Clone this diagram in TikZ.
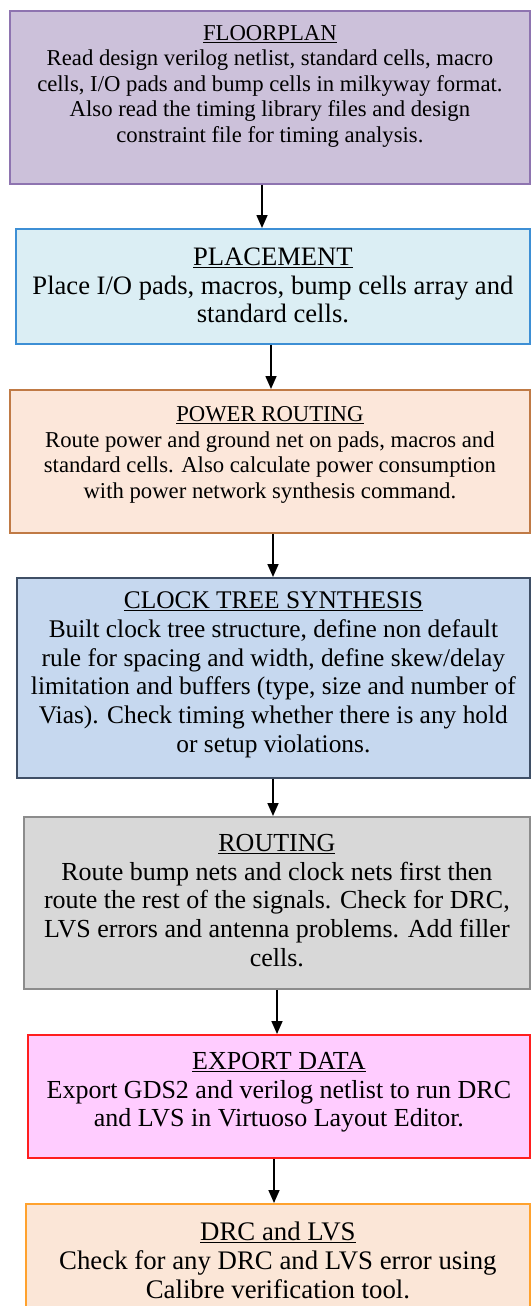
\documentclass[tikz,border=0pt]{standalone}
\usepackage{fontspec}
\setmainfont{Liberation Serif}
\usepackage{tikz}
\usetikzlibrary{arrows.meta, positioning}

\definecolor{fpFill}{HTML}{CCC1DA}\definecolor{fpLine}{HTML}{8E74B0}
\definecolor{plFill}{HTML}{DBEEF4}\definecolor{plLine}{HTML}{3D8FD5}
\definecolor{pwFill}{HTML}{FCE7DA}\definecolor{pwLine}{HTML}{C07A45}
\definecolor{ctFill}{HTML}{C6D8EF}\definecolor{ctLine}{HTML}{3F4F66}
\definecolor{rtFill}{HTML}{D8D8D8}\definecolor{rtLine}{HTML}{8C8C8C}
\definecolor{exFill}{HTML}{FFCCFF}\definecolor{exLine}{HTML}{FF1E1E}
\definecolor{drFill}{HTML}{FBE6D7}\definecolor{drLine}{HTML}{FFA22E}

\tikzset{
  stage/.style={rectangle, line width=1.8pt, inner sep=0pt, anchor=north west},
  caption/.style={align=center, inner sep=0pt, text=black},
  smalltext/.style={caption, font=\fontsize{22.7pt}{25.4pt}\selectfont},
  bigtext/.style={caption, font=\fontsize{#1}{28.7pt}\selectfont},
  bigtext/.default=26pt,
  flow/.style={-{Triangle[length=13pt,width=11pt]}, line width=1.6pt}
}

\begin{document}
\begin{tikzpicture}[x=1pt, y=-1pt, node distance=15pt]
  \useasboundingbox (0,0) rectangle (530,1306);
  % % stages
  \node[stage, draw=fpLine, fill=fpFill, minimum width=520pt, minimum height=173pt] (floorplan) at (9,10) {};
  \node[stage, draw=plLine, fill=plFill, minimum width=514pt, minimum height=115pt] (placement) at (15,228) {};
  \node[stage, draw=pwLine, fill=pwFill, minimum width=520pt, minimum height=143pt] (power) at (9,389) {};
  \node[stage, draw=ctLine, fill=ctFill, minimum width=513pt, minimum height=200pt] (cts) at (16,577) {};
  \node[stage, draw=rtLine, fill=rtFill, minimum width=506pt, minimum height=172pt] (routing) at (23,816) {};
  \node[stage, draw=exLine, fill=exFill, minimum width=502pt, minimum height=123pt] (export) at (27,1034) {};
  \node[stage, draw=drLine, fill=drFill, minimum width=504pt, minimum height=130pt] (drc) at (25,1203) {};

  \node[smalltext, below=15.3pt of floorplan.north] (floorplanText) {\underline{FLOORPLAN}\\
    Read design verilog netlist, standard cells, macro\\
    cells, I/O pads and bump cells in milkyway format.\\
    Also read the timing library files and design\\
    constraint file for timing analysis.};
  \node[bigtext=26.6pt, below=19.6pt of placement.north] (placementText) {\underline{PLACEMENT}\\
    Place I/O pads, macros, bump cells array and\\
    standard cells.};
  \node[smalltext, below=17.7pt of power.north] (powerText) {\underline{POWER ROUTING}\\
    Route power and ground net on pads, macros and\\
    standard cells. Also calculate power consumption\\
    with power network synthesis command.};
  \node[bigtext=25.4pt, below=14.7pt of cts.north] (ctsText) {\underline{CLOCK TREE SYNTHESIS}\\
    Built clock tree structure, define non default\\
    rule for spacing and width, define skew/delay\\
    limitation and buffers (type, size and number of\\
    Vias). Check timing whether there is any hold\\
    or setup violations.};
  \node[bigtext, below=18pt of routing.north] (routingText) {\underline{ROUTING}\\
    Route bump nets and clock nets first then\\
    route the rest of the signals. Check for DRC,\\
    LVS errors and antenna problems. Add filler\\
    cells.};
  \node[bigtext, below=18pt of export.north] (exportText) {\underline{EXPORT DATA}\\
    Export GDS2 and verilog netlist to run DRC\\
    and LVS in Virtuoso Layout Editor.};
  \node[bigtext=26.8pt, below=19pt of drc.north] (drcText) {\underline{DRC and LVS}\\
    Check for any DRC and LVS error using\\
    Calibre verification tool.};

  % % flow arrows
  \foreach \from/\to/\x in {floorplan/placement/262, placement/power/271, power/cts/273,
                            cts/routing/273, routing/export/277, export/drc/274}
    \draw[flow] (\from.south -| \x,0) -- (\to.north -| \x,0);
\end{tikzpicture}
\end{document}
